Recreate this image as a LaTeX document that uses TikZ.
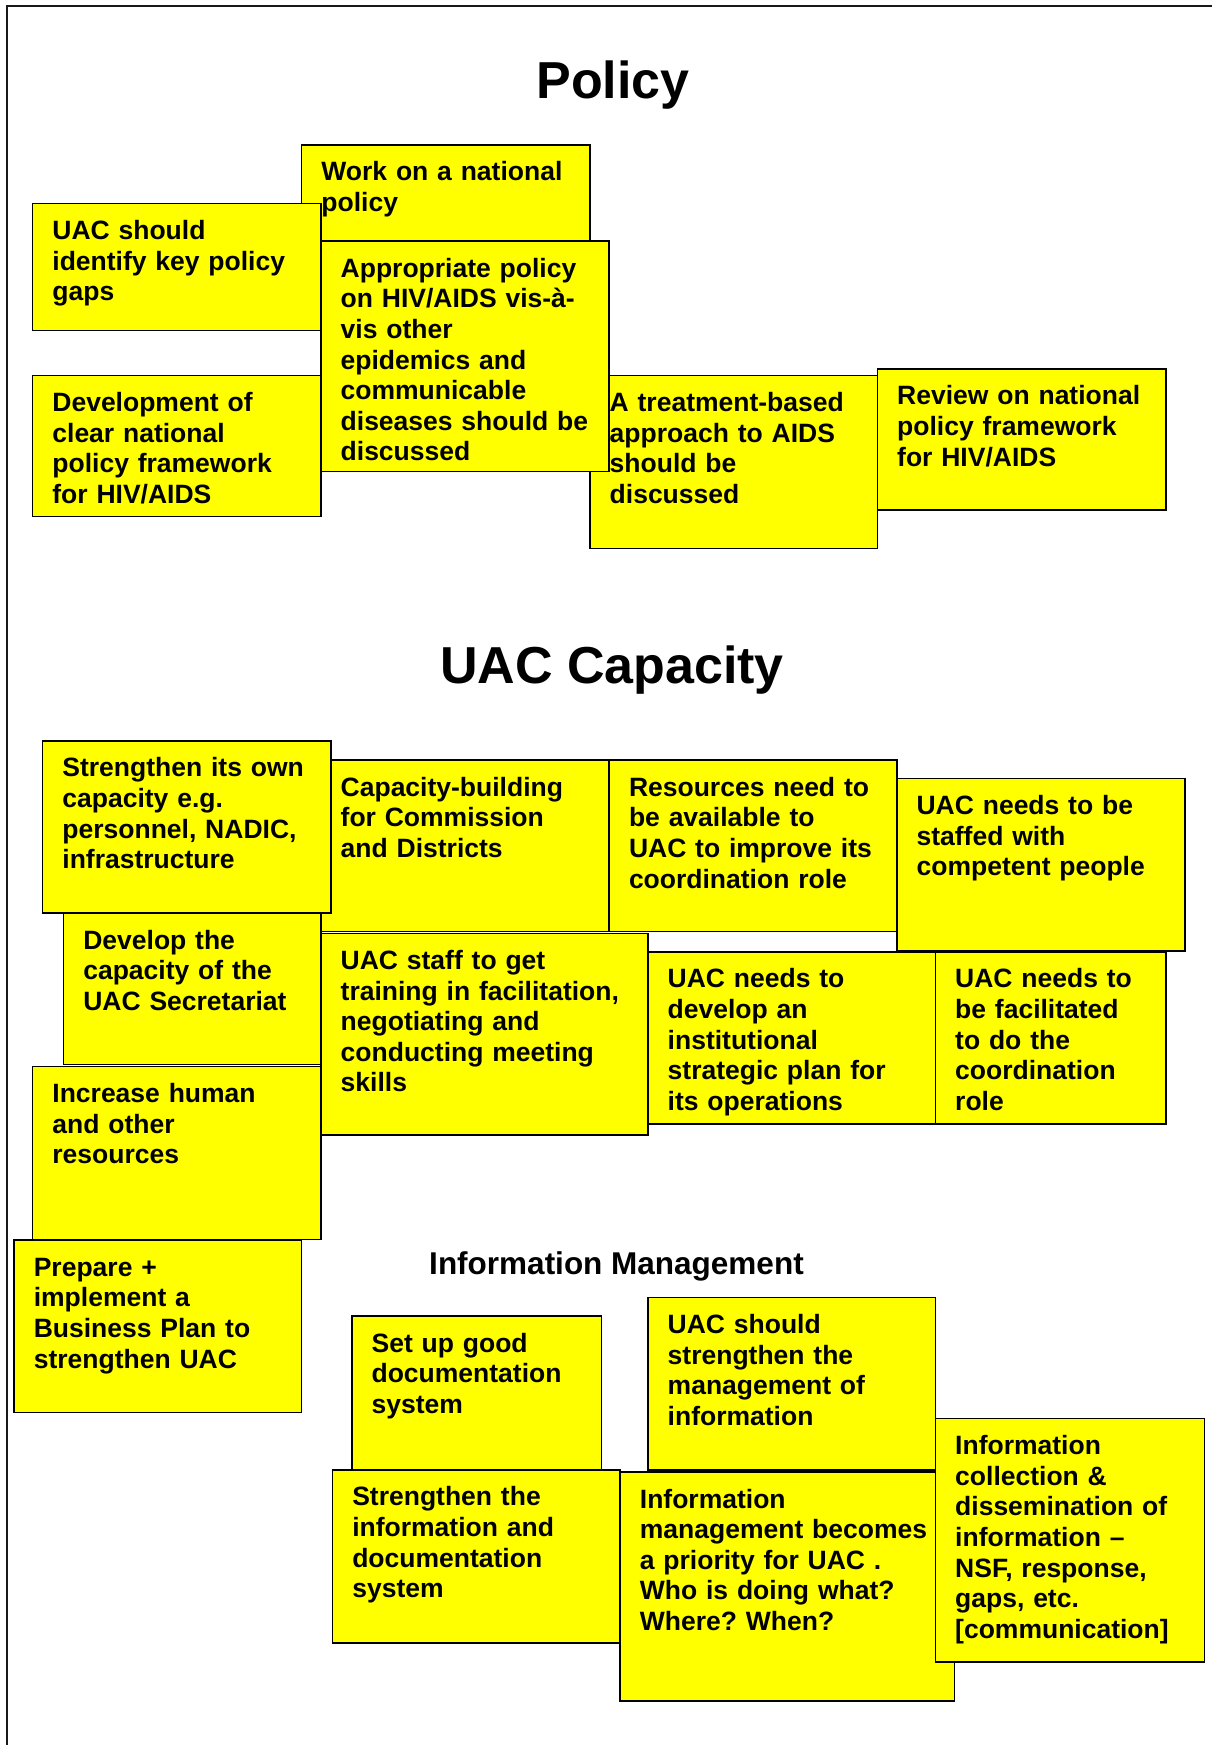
\documentclass[tikz,border=0pt]{standalone}
\usepackage{fontspec}
\setmainfont{Liberation Sans}
\usetikzlibrary{positioning}

\definecolor{notefill}{RGB}{255,255,0}

% yellow sticky-note cards with bold left-aligned text
\newcommand{\cardfont}{\fontsize{26.5}{30.6}\selectfont\bfseries\frenchspacing}
\tikzset{
  card/.style={draw=black, line width=1.6pt, fill=notefill, inner sep=0pt, rectangle},
  cardtext/.style={anchor=north west, inner sep=0pt, align=left, text width=320pt, font=\cardfont, text=black},
  heading/.style={anchor=base, inner sep=0pt, font=\fontsize{52}{60}\selectfont\bfseries},
  subheading/.style={anchor=base, inner sep=0pt, font=\fontsize{31.5}{36}\selectfont\bfseries}
}
% \stickynote{name}{left}{top}{right}{bottom}{text}
\newcommand{\stickynote}[6]{%
  \node[card, minimum width={#4-#2}, minimum height={#5-#3}] (#1) at ({(#2+#4)/2},{(#3+#5)/2}) {};
  \node[cardtext] (#1-text) at ([shift={(20.5pt,-15.3pt)}]#1.north west) {\strut #6};
}

\begin{document}
\begin{tikzpicture}[x=1pt, y=-1pt]
\useasboundingbox (0,0) rectangle (1212,1745);
\fill[white] (0,0) rectangle (1212,1745);

% page frame (top and left edges)
\draw[line width=2.2pt, black!90] (7,1745) -- (7,6) -- (1212,6);

% ---------------- Policy ----------------
\node[heading] (policy) at (613,99) {Policy};

\stickynote{workpolicy}{301.5}{144.7}{589.8}{241}{Work on a national\\policy}
\stickynote{treatment}{589.8}{375.4}{877.3}{548.6}{A treatment-based\\approach to AIDS\\should be\\discussed}
\stickynote{review}{877.3}{368.8}{1165.7}{509.7}{Review on national\\policy framework\\for HIV/AIDS}
\stickynote{gaps}{32.5}{203.5}{320.8}{330.3}{UAC should\\identify key policy\\gaps}
\stickynote{framework}{32.5}{375.4}{320.8}{516.4}{Development of\\clear national\\policy framework\\for HIV/AIDS}
\stickynote{appropriate}{320.8}{241.2}{609.1}{471.6}{Appropriate policy\\on HIV/AIDS vis-à-\\vis other\\epidemics and\\communicable\\diseases should be\\discussed}

% ---------------- UAC Capacity ----------------
\node[heading] (capacity) at (612,683.6) {UAC Capacity};

\stickynote{capbuild}{320.8}{760.1}{609.1}{931.4}{Capacity-building\\for Commission\\and Districts}
\stickynote{resources}{609.1}{760.1}{896.7}{931.4}{Resources need to\\be available to\\UAC to improve its\\coordination role}
\stickynote{staffed}{896.7}{778.6}{1185}{951}{UAC needs to be\\staffed with\\competent people}
\stickynote{secretariat}{63.4}{912.9}{320.8}{1064.6}{Develop the\\capacity of the\\UAC Secretariat}
\stickynote{ownstrength}{42.5}{740.8}{330.8}{912.9}{Strengthen its own\\capacity e.g.\\personnel, NADIC,\\infrastructure}
\stickynote{training}{320.8}{933.3}{647.8}{1134.9}{UAC staff to get\\training in facilitation,\\negotiating and\\conducting meeting\\skills}
\stickynote{strategic}{647.8}{951.8}{935.3}{1123.8}{UAC needs to\\develop an\\institutional\\strategic plan for\\its operations}
\stickynote{facilitated}{935.3}{951.8}{1165.7}{1123.8}{UAC needs to\\be facilitated\\to do the\\coordination\\role}
\stickynote{human}{32.5}{1066.4}{320.8}{1239.5}{Increase human\\and other\\resources}
\stickynote{business}{13.9}{1240.2}{301.5}{1412.6}{Prepare +\\implement a\\Business Plan to\\strengthen UAC}

% ---------------- Information Management ----------------
\node[subheading] (infomgmt) at (616.5,1274) {Information Management};

\stickynote{docsystem}{351.7}{1316}{601.4}{1469.7}{Set up good\\documentation\\system}
\stickynote{managinfo}{647.8}{1297.3}{935.3}{1469.7}{UAC should\\strengthen the\\management of\\information}
\stickynote{strengthdoc}{332.4}{1469.7}{620}{1643.2}{Strengthen the\\information and\\documentation\\system}
\stickynote{priority}{620}{1471.9}{954.6}{1701}{Information\\management becomes\\a priority for UAC .\\Who is doing what?\\Where? When?}
\stickynote{collection}{935.3}{1418.6}{1204.3}{1661.7}{Information\\collection \&\\dissemination of\\information –\\NSF, response,\\gaps, etc.\\\relax[communication]}

\end{tikzpicture}
\end{document}
